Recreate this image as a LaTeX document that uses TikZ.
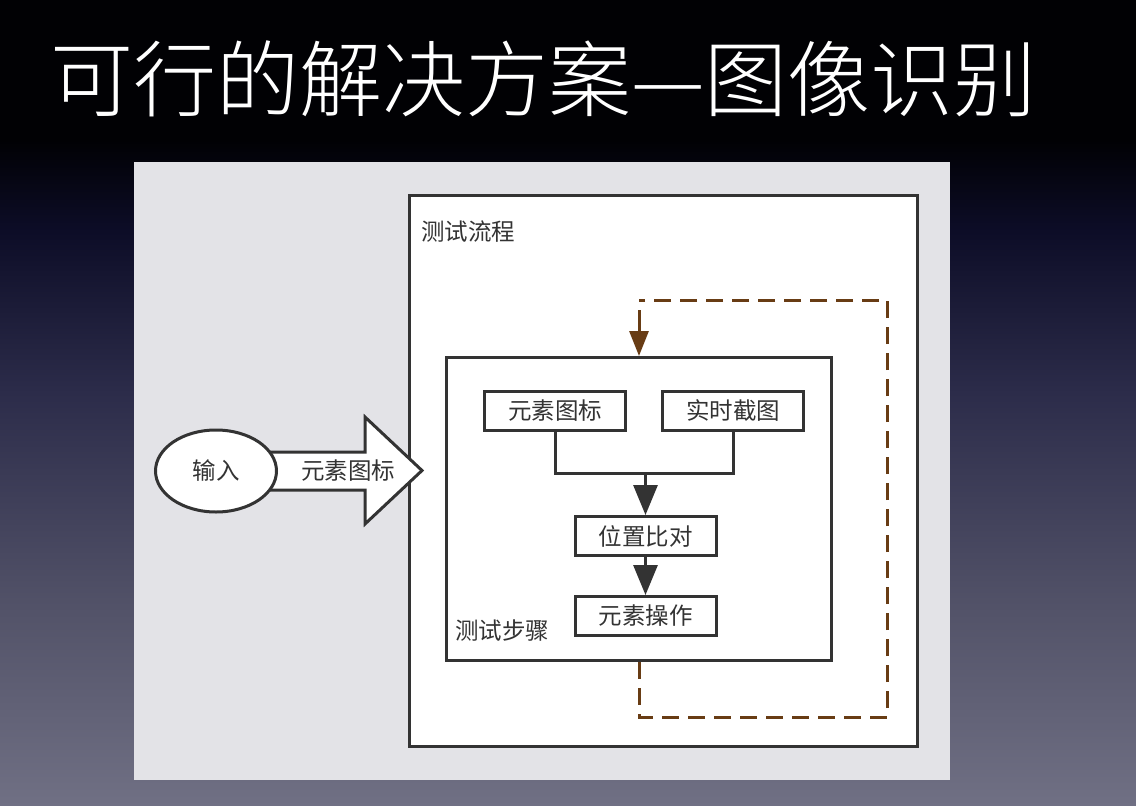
\documentclass[tikz,border=0pt]{standalone}
\usepackage{fontspec}
\newfontfamily\cjk{Noto Sans CJK SC}
\newfontfamily\cjklight{Noto Sans CJK SC Light}
\usetikzlibrary{arrows.meta,shapes.geometric}
\definecolor{lineg}{HTML}{333333}
\definecolor{textg}{HTML}{333333}
\definecolor{brownd}{RGB}{104,60,20}
\definecolor{panel}{HTML}{E3E3E7}
\definecolor{bgtop}{HTML}{010104}
\definecolor{bgnavy}{HTML}{0C0C26}
\definecolor{bgmid}{HTML}{2C2C4A}
\definecolor{bgmid2}{HTML}{525268}
\definecolor{bgbot}{HTML}{707084}
\pgfdeclareverticalshading{bgsh}{100bp}{color(0bp)=(bgbot); color(25bp)=(bgbot); color(40bp)=(bgmid2); color(56bp)=(bgmid); color(68.5bp)=(bgnavy); color(75bp)=(bgtop); color(100bp)=(bgtop)}
\begin{document}
\begin{tikzpicture}[x=1pt,y=-1pt,
  stepbox/.style={draw=lineg,line width=3pt,fill=white,inner sep=0pt,
    minimum width=141pt,minimum height=39pt,font=\cjk\fontsize{23.5}{23.5}\selectfont,text=textg},
  lbl/.style={font=\cjk\fontsize{23.5}{23.5}\selectfont,text=textg,inner sep=0pt},
  conn/.style={draw=lineg,line width=3pt},
  flow/.style={conn,-{Triangle[width=24pt,length=30pt]}},
  loop/.style={draw=brownd,line width=3pt,dash pattern=on 17pt off 9pt}]
\useasboundingbox (0,0) rectangle (1136,806);
% background
\fill[bgtop] (0,0) rectangle (1136,806);
\shade[shading=bgsh] (0,140) rectangle (1136,806);
% title
\node[anchor=west,text=white,inner sep=0pt,font=\cjklight\fontsize{83}{83}\selectfont] (title) at (50,79) {可行的解决方案—图像识别};
% panel
\fill[panel] (134,162) rectangle (950,780);
% outer box
\node[draw=lineg,line width=3pt,fill=white,minimum width=508pt,minimum height=551pt,inner sep=0pt] (outer) at (663.5,471) {};
\node[lbl,anchor=west] (outerlbl) at (421,232) {测试流程};
% inner box
\node[draw=lineg,line width=3pt,fill=white,minimum width=385pt,minimum height=303pt,inner sep=0pt] (inner) at (639,509) {};
\node[lbl,anchor=west] (innerlbl) at (455,631) {测试步骤};
% step boxes
\node[stepbox] (icon) at (555,410.5) {元素图标};
\node[stepbox] (shot) at (733,410.5) {实时截图};
\node[stepbox] (cmp) at (645.5,536) {位置比对};
\node[stepbox] (op) at (645.5,616) {元素操作};
\coordinate (join) at (645.5,473);
\draw[conn] (icon.south) |- (join) -| (shot.south);
\draw[flow] (join) -- (cmp.north);
\draw[flow] (cmp.south) -- (op.north);
% loop
\coordinate (lpx) at (639,300);
\coordinate (lp1) at (639,717);
\coordinate (lp2) at (887,717);
\coordinate (lp3) at (887,300);
\coordinate (lp4) at (639,300);
\coordinate (lp5) at (639,310);
\draw[loop] (inner.south -| lpx) -- (lp1) -- (lp2) -- (lp3) -- (lp4);
\draw[draw=brownd,line width=3pt,-{Triangle[width=19pt,length=25pt]}] (lp5) -- (inner.north -| lp5);
% input
\coordinate (arrtip) at (422,470.5);
\draw[draw=lineg,line width=3pt,fill=white,line join=miter] (262,452) -- (365,452) -- (365,417) -- (arrtip) -- (365,524) -- (365,490) -- (262,490) -- cycle;
\node[draw=lineg,line width=3pt,fill=white,ellipse,minimum width=121pt,minimum height=82pt,inner sep=0pt,lbl] (in) at (216,471) {输入};
\node[lbl] (arrlbl) at (348,471) {元素图标};
\end{tikzpicture}
\end{document}
